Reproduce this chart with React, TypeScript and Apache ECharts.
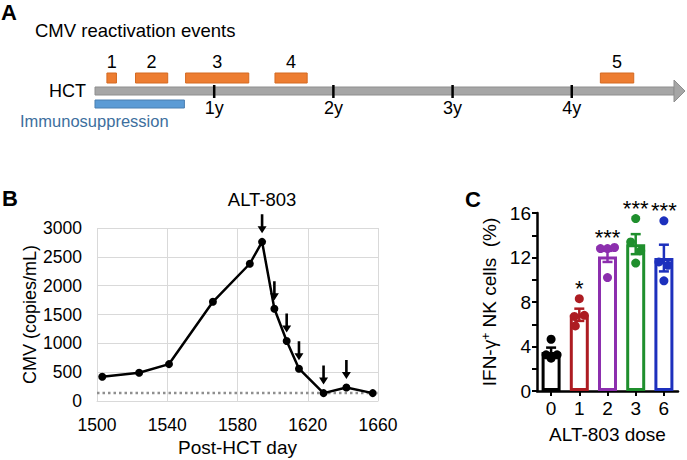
import React, { useEffect, useRef } from 'react';
import * as echarts from 'echarts';

const FONT = '"Liberation Sans", Arial, Helvetica, sans-serif';

// ---------- Panel A : timeline (years after HCT) ----------
const timelineEndYear = 4.95;
const yearTicks = [1, 2, 3, 4];
const yearTickLabels = ['1y', '2y', '3y', '4y'];
const eventLabels = ['1', '2', '3', '4', '5'];
const eventStartYear = [0.10, 0.34, 0.76, 1.51, 4.24];
const eventEndYear = [0.18, 0.61, 1.29, 1.78, 4.52];
const immunoStartYear = 0;
const immunoEndYear = 0.75;

// ---------- Panel B : CMV copies ----------
const cmvDays = [1503, 1524, 1541, 1566, 1587, 1594, 1601, 1608, 1615, 1629, 1642, 1657];
const cmvCopies = [420, 490, 640, 1720, 2380, 2760, 1600, 1040, 560, 137, 235, 137];
const doseDays = [1594, 1601, 1608, 1615, 1629, 1642];
const detectionLimit = 137;
const dayMin = 1500;
const dayMax = 1660;
const dayStep = 40;
const copiesMax = 3000;
const copiesStep = 500;

// ---------- Panel C : IFN-g+ NK cells ----------
const doseLabels = ['0', '1', '2', '3', '6'];
const nkMean = [3.5, 6.85, 12.1, 13.2, 11.95];
const nkSem = [0.4, 0.55, 0.5, 0.9, 1.2];
const nkDots = [
  [4.65, 3.25, 2.95, 3.25],
  [8.3, 6.8, 6.7, 5.85],
  [12.8, 12.8, 12.9, 10.2],
  [15.5, 13.4, 12.6, 11.5],
  [15.3, 11.6, 11.3, 9.9],
];
const significance = ['', '*', '***', '***', '***'];

// styles
const doseColors = ['#000000', '#ad1c22', '#8c2fae', '#1f8f2d', '#1d30bd'];
const dotJitter = [
  [0, -5, 0, 6],
  [0, 5, -5, -4],
  [-7, 0, 7, 0],
  [0, -5, 5, 0],
  [0, -5, 4, 0],
];
const ARROW = 'path://M3.2,0 L5.8,0 L5.8,12 L9,12 L4.5,19 L0,12 L3.2,12 Z';

export default function App() {
  const ref = useRef<HTMLDivElement>(null);

  useEffect(() => {
    if (!ref.current) return;
    const chart = echarts.init(ref.current, undefined, { renderer: 'svg' });

    const txt = (text: string, x: number, y: number, size: number, opts: any = {}) => ({
      type: 'text',
      x,
      y,
      style: {
        text,
        fill: opts.fill || '#000',
        fontSize: size,
        fontFamily: FONT,
        fontWeight: opts.bold ? 'bold' : 'normal',
        align: opts.align || 'left',
        verticalAlign: 'middle',
        textAlign: opts.align || 'left',
        textVerticalAlign: 'middle',
      },
    });

    const plain = (v: number) => String(v);

    const option: any = {
      animation: false,
      backgroundColor: '#ffffff',
      textStyle: { fontFamily: FONT },
      grid: [
        { left: 95, right: 2, top: 60, height: 40 },
        { left: 97, right: 309, top: 228, bottom: 59 },
        { left: 537, right: 9, top: 213, bottom: 69 },
      ],
      xAxis: [
        { gridIndex: 0, type: 'value', min: 0, max: timelineEndYear, show: false },
        {
          gridIndex: 1,
          type: 'value',
          min: dayMin,
          max: dayMax,
          interval: dayStep,
          name: 'Post-HCT day',
          nameLocation: 'middle',
          nameGap: 37,
          nameTextStyle: { fontSize: 19, color: '#000', fontFamily: FONT },
          axisLine: { show: true, lineStyle: { color: '#d9d9d9', width: 1 } },
          axisTick: { show: false },
          axisLabel: { fontSize: 17.5, color: '#000', margin: 15, fontFamily: FONT, formatter: plain },
          splitLine: { show: true, lineStyle: { color: '#d9d9d9', width: 1 } },
        },
        {
          gridIndex: 2,
          type: 'category',
          data: doseLabels,
          name: 'ALT-803 dose',
          nameLocation: 'middle',
          nameGap: 34,
          nameTextStyle: { fontSize: 19, color: '#000', fontFamily: FONT },
          axisLine: { show: true, lineStyle: { color: '#000', width: 2.5 } },
          axisTick: { show: true, alignWithLabel: true, length: 5, lineStyle: { color: '#000', width: 2 } },
          axisLabel: { fontSize: 19, color: '#000', margin: 8, fontFamily: FONT },
        },
      ],
      yAxis: [
        { gridIndex: 0, type: 'value', min: 0, max: 1, show: false },
        {
          gridIndex: 1,
          type: 'value',
          min: 0,
          max: copiesMax,
          interval: copiesStep,
          name: 'CMV (copies/mL)',
          nameLocation: 'middle',
          nameRotate: 90,
          nameGap: 57,
          nameTextStyle: { fontSize: 18, color: '#000', fontFamily: FONT },
          axisLine: { show: false },
          axisTick: { show: false },
          axisLabel: { fontSize: 17.5, color: '#000', margin: 15, fontFamily: FONT, formatter: plain },
          splitLine: { show: true, lineStyle: { color: '#d9d9d9', width: 1 } },
        },
        {
          gridIndex: 2,
          type: 'value',
          min: 0,
          max: 16,
          interval: 4,
          name: '{a|IFN-γ}{sup|+}{a| NK cells  (%)}',
          nameLocation: 'middle',
          nameRotate: 90,
          nameGap: 38,
          nameTextStyle: {
            fontSize: 19,
            color: '#000',
            fontFamily: FONT,
            rich: {
              a: { fontSize: 19, color: '#000', fontFamily: FONT },
              sup: { fontSize: 12, color: '#000', fontFamily: FONT, verticalAlign: 'top' },
            },
          },
          axisLine: { show: true, lineStyle: { color: '#000', width: 2.5 } },
          axisTick: { show: true, length: 5, lineStyle: { color: '#000', width: 2 } },
          minorTick: { show: true, splitNumber: 2, length: 5, lineStyle: { color: '#000', width: 2 } },
          splitLine: { show: false },
          axisLabel: { fontSize: 19, color: '#000', margin: 6, fontFamily: FONT },
        },
      ],
      series: [
        // ----- Panel A -----
        {
          type: 'custom',
          xAxisIndex: 0,
          yAxisIndex: 0,
          data: [[0, timelineEndYear]],
          renderItem: (_p: any, api: any) => {
            const s = api.coord([api.value(0), 0]);
            const e = api.coord([api.value(1), 0]);
            const head = 11;
            return {
              type: 'group',
              children: [
                {
                  type: 'rect',
                  shape: { x: s[0], y: 87, width: e[0] - head - s[0], height: 8 },
                  style: { fill: '#a6a6a6', stroke: '#8e8e8e', lineWidth: 1 },
                },
                {
                  type: 'polygon',
                  shape: { points: [[e[0] - head, 80], [e[0], 91], [e[0] - head, 102]] },
                  style: { fill: '#a6a6a6', stroke: '#8e8e8e', lineWidth: 1 },
                },
              ],
            };
          },
        },
        {
          type: 'custom',
          xAxisIndex: 0,
          yAxisIndex: 0,
          data: [[immunoStartYear, immunoEndYear]],
          renderItem: (_p: any, api: any) => {
            const s = api.coord([api.value(0), 0]);
            const e = api.coord([api.value(1), 0]);
            return {
              type: 'rect',
              shape: { x: s[0], y: 100, width: e[0] - s[0], height: 8 },
              style: { fill: '#5b9bd5', stroke: '#4a7fb0', lineWidth: 1 },
            };
          },
        },
        {
          type: 'custom',
          xAxisIndex: 0,
          yAxisIndex: 0,
          data: eventStartYear.map((s, i) => [s, eventEndYear[i]]),
          renderItem: (p: any, api: any) => {
            const s = api.coord([api.value(0), 0]);
            const e = api.coord([api.value(1), 0]);
            return {
              type: 'group',
              children: [
                {
                  type: 'rect',
                  shape: { x: s[0], y: 73, width: e[0] - s[0], height: 10 },
                  style: { fill: '#ed7d31', stroke: '#d46a22', lineWidth: 1 },
                },
                txt(eventLabels[p.dataIndex], (s[0] + e[0]) / 2, 62, 18, { align: 'center' }),
              ],
            };
          },
        },
        {
          type: 'custom',
          xAxisIndex: 0,
          yAxisIndex: 0,
          data: yearTicks.map((y) => [y, 0]),
          renderItem: (p: any, api: any) => {
            const c = api.coord([api.value(0), 0]);
            return {
              type: 'group',
              children: [
                { type: 'line', shape: { x1: c[0], y1: 85, x2: c[0], y2: 98 }, style: { stroke: '#000', lineWidth: 2.5 } },
                txt(yearTickLabels[p.dataIndex], c[0], 108, 18, { align: 'center' }),
              ],
            };
          },
        },
        // ----- Panel B -----
        {
          type: 'line',
          xAxisIndex: 1,
          yAxisIndex: 1,
          data: [[dayMin, detectionLimit], [dayMax, detectionLimit]],
          symbol: 'none',
          z: 1,
          lineStyle: { color: '#8f8f8f', width: 2.5, type: [2.5, 3] },
          silent: true,
        },
        {
          type: 'line',
          xAxisIndex: 1,
          yAxisIndex: 1,
          data: cmvDays.map((d, i) => [d, cmvCopies[i]]),
          symbol: 'circle',
          symbolSize: 8,
          z: 3,
          lineStyle: { color: '#000', width: 2.5 },
          itemStyle: { color: '#000', opacity: 1 },
        },
        {
          type: 'scatter',
          xAxisIndex: 1,
          yAxisIndex: 1,
          z: 4,
          symbol: ARROW,
          symbolSize: [9, 19],
          symbolOffset: [0, -18],
          itemStyle: { color: '#000', opacity: 1 },
          data: doseDays.map((d, i) => ({
            value: [d, cmvCopies[cmvDays.indexOf(d)]],
            label: i === 0
              ? { show: true, position: 'top', distance: 5, formatter: 'ALT-803', fontSize: 18.5, color: '#000', fontFamily: FONT }
              : { show: false },
          })),
        },
        // ----- Panel C -----
        {
          type: 'bar',
          xAxisIndex: 2,
          yAxisIndex: 2,
          barWidth: 19,
          z: 2,
          data: nkMean.map((m, i) => ({
            value: m,
            itemStyle: { color: '#ffffff', borderColor: doseColors[i], borderWidth: 3 },
          })),
        },
        {
          type: 'custom',
          xAxisIndex: 2,
          yAxisIndex: 2,
          z: 3,
          data: nkMean.map((m, i) => [i, m, nkSem[i]]),
          renderItem: (p: any, api: any) => {
            const i = api.value(0);
            const m = api.value(1);
            const s = api.value(2);
            const top = api.coord([i, m + s]);
            const bot = api.coord([i, m - s]);
            const col = doseColors[p.dataIndex];
            const st = { stroke: col, lineWidth: 2.5 };
            return {
              type: 'group',
              children: [
                { type: 'line', shape: { x1: top[0], y1: top[1], x2: bot[0], y2: bot[1] }, style: st },
                { type: 'line', shape: { x1: top[0] - 5, y1: top[1], x2: top[0] + 5, y2: top[1] }, style: st },
                { type: 'line', shape: { x1: bot[0] - 5, y1: bot[1], x2: bot[0] + 5, y2: bot[1] }, style: st },
              ],
            };
          },
        },
        {
          type: 'scatter',
          xAxisIndex: 2,
          yAxisIndex: 2,
          z: 4,
          symbol: 'circle',
          symbolSize: 9,
          data: nkDots.flatMap((g, i) =>
            g.map((v, j) => ({
              value: [i, v],
              symbolOffset: [dotJitter[i][j], 0],
              itemStyle: { color: doseColors[i], opacity: 1 },
            }))
          ),
        },
        {
          type: 'custom',
          xAxisIndex: 2,
          yAxisIndex: 2,
          z: 5,
          data: nkDots.map((g, i) => [i, Math.max(...g)]),
          renderItem: (p: any, api: any) => {
            const c = api.coord([api.value(0), api.value(1)]);
            return txt(significance[p.dataIndex], c[0], c[1] - 10, 22, { align: 'center' });
          },
        },
      ],
      graphic: [
        txt('A', 1, 12, 22, { bold: true }),
        txt('B', 2, 198, 22, { bold: true }),
        txt('C', 465, 199, 22, { bold: true }),
        txt('CMV reactivation events', 35, 30, 18.5),
        txt('HCT', 86, 91, 18, { align: 'right' }),
        txt('Immunosuppression', 20, 121, 16.5, { fill: '#3d6f9e' }),
      ],
    };

    chart.setOption(option);
    return () => chart.dispose();
  }, []);

  return (
    <div
      ref={ref}
      style={{ position: 'absolute', left: 0, top: 0, width: 687, height: 460, background: '#fff' }}
    />
  );
}
